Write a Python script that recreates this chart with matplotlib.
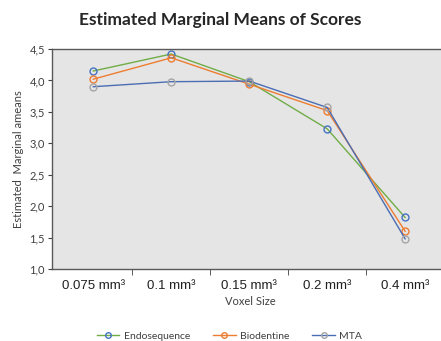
import matplotlib
matplotlib.use("Agg")
import matplotlib.pyplot as plt

# estimated marginal means per voxel size
voxel_sizes = ["0.075 mm³", "0.1 mm³", "0.15 mm³", "0.2 mm³", "0.4 mm³"]
endosequence = [4.15, 4.42, 3.98, 3.23, 1.82]
biodentine = [4.02, 4.36, 3.94, 3.52, 1.60]
mta = [3.90, 3.98, 3.99, 3.57, 1.48]

y_ticks = [1.0, 1.5, 2.0, 2.5, 3.0, 3.5, 4.0, 4.5]

plt.rcParams["font.family"] = ["Lato", "DejaVu Sans"]

fig = plt.figure(figsize=(4.41, 3.41), dpi=100)
ax = fig.add_axes([52 / 441, 72 / 341, 396 / 441, 220 / 341])
ax.set_facecolor("#e6e5e5")

x = list(range(len(voxel_sizes)))
series = [
    ("Endosequence", endosequence, "#70ad47", "#4472c4"),
    ("Biodentine", biodentine, "#ed7d31", "#ed7d31"),
    ("MTA", mta, "#4a6db3", "#a5a5a5"),
]
for label, vals, line_c, mark_c in series:
    ax.plot(x, vals, color=line_c, lw=1.0, marker="o", ms=5, mfc="none",
            mec=mark_c, mew=1.0, label=label)

ax.set_xlim(-0.53, 4.55)
ax.set_ylim(1.0, 4.5)
ax.set_yticks(y_ticks)
ax.set_yticklabels([f"{v:.1f}".replace(".", ",") for v in y_ticks],
                   fontsize=8, color="#404040")
ax.set_xticks(x)
ax.set_xticklabels(voxel_sizes, fontsize=9.5, family=["Liberation Sans", "DejaVu Sans"],
                   color="#202020")
ax.set_xticks([i + 0.5 for i in x[:-1]], minor=True)
ax.tick_params(axis="x", which="major", length=0, pad=8)
ax.tick_params(axis="x", which="minor", length=4, color="#404040")
ax.tick_params(axis="y", length=3, color="#404040", pad=2)

for side in ["left", "bottom", "top"]:
    ax.spines[side].set_color("#595959")
    ax.spines[side].set_linewidth(1.0)
ax.spines["right"].set_visible(False)

ax.set_ylabel("Estimated  Marginal ameans", fontsize=8, color="#404040", labelpad=4)
ax.set_xlabel("Voxel Size", fontsize=8, color="#404040", labelpad=3)

fig.text(0.5, 0.94, "Estimated Marginal Means of Scores", ha="center",
         va="center", fontsize=12.5, fontweight="bold", color="#262626")

fig.legend(loc="center", bbox_to_anchor=(0.52, 0.015), ncol=3, frameon=False,
           fontsize=7.5, handlelength=2.2, columnspacing=2.2, handletextpad=0.4,
           markerscale=0.8, labelcolor="#404040")

fig.savefig("out.png", dpi=100, facecolor="white")
